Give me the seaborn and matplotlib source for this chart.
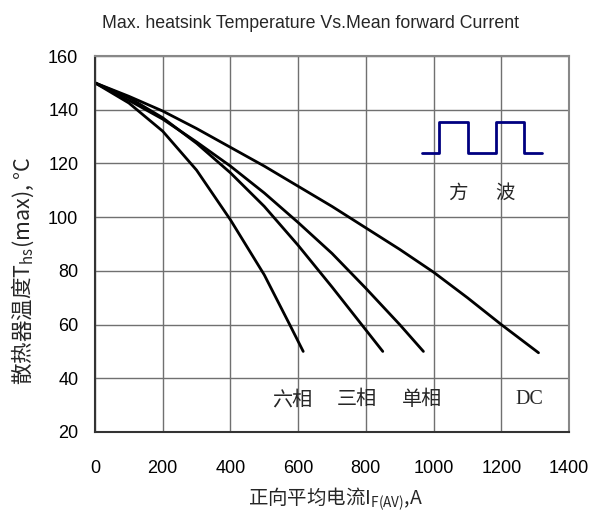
import pandas as pd
import seaborn as sns
import matplotlib.pyplot as plt
from matplotlib import font_manager

# curves (current A, heatsink temp degC)
six_x = [0, 100, 200, 300, 400, 500, 575, 615]
six_y = [150, 142.5, 132, 117.5, 99, 78.5, 60, 50]
three_x = [0, 100, 200, 300, 400, 500, 600, 700, 800, 850]
three_y = [150, 144.5, 137, 127.5, 116.5, 104, 89.5, 74, 58, 50]
single_x = [0, 100, 200, 300, 400, 500, 600, 700, 800, 900, 970]
single_y = [150, 143.5, 136.5, 128, 119, 109, 98, 86.5, 73.5, 60, 50]
dc_x = [0, 100, 200, 300, 400, 500, 600, 700, 800, 900, 1000, 1100, 1200, 1310]
dc_y = [150, 145, 139.5, 133, 126, 119, 111.5, 104, 96, 88, 79.5, 70, 60, 49.5]

# little square wave sketch in the upper right
wave_x = [966, 1017, 1017, 1102, 1102, 1184, 1184, 1267, 1267, 1319]
wave_y = [124, 124, 135.5, 135.5, 124, 124, 135.5, 135.5, 124, 124]

curve_labels = ['六相', '三相', '单相', 'DC']
label_x = [582, 774, 966, 1282]
label_y = 32

wave_text = ['方', '波']
wave_text_x = [1072, 1211]
wave_text_y = 109

xticks = [0, 200, 400, 600, 800, 1000, 1200, 1400]
yticks = [20, 40, 60, 80, 100, 120, 140, 160]

frames = []
for name, xs, ys in [('六相', six_x, six_y), ('三相', three_x, three_y),
                     ('单相', single_x, single_y), ('DC', dc_x, dc_y)]:
    frames.append(pd.DataFrame({'I': xs, 'T': ys, 'curve': name}))
df = pd.concat(frames, ignore_index=True)

sns.set_style('white')
plt.rcParams['font.family'] = ['Liberation Sans', 'Noto Sans CJK SC', 'DejaVu Sans']

fig = plt.figure(figsize=(6.05, 5.18), dpi=100)
ax = fig.add_axes([95 / 605, 1 - 432 / 518, 474 / 605, 376 / 518])

sns.lineplot(data=df, x='I', y='T', units='curve', estimator=None, sort=False,
             color='black', linewidth=2.0, ax=ax, legend=False)
ax.plot(wave_x, wave_y, color='#000080', linewidth=2.0)

ax.set_xlim(0, 1400)
ax.set_ylim(20, 160)
ax.set_xticks(xticks)
ax.set_yticks(yticks)
ax.grid(True, color='#707070', linewidth=1.0)
ax.tick_params(axis='both', length=0, labelsize=13, colors='black')
ax.tick_params(axis='x', pad=20)
ax.tick_params(axis='y', pad=12)
for side in ['top', 'right']:
    ax.spines[side].set_color('#888888')
    ax.spines[side].set_linewidth(1.5)
for side in ['left', 'bottom']:
    ax.spines[side].set_color('#333333')
    ax.spines[side].set_linewidth(1.5)

for txt, lx in zip(curve_labels, label_x):
    ax.text(lx, label_y, txt, ha='center', va='center', fontsize=14.5,
            family=['Noto Sans CJK SC'] if txt != 'DC' else ['Liberation Serif'])
for txt, lx in zip(wave_text, wave_text_x):
    ax.text(lx, wave_text_y, txt, ha='center', va='center', fontsize=14,
            family=['Noto Sans CJK SC'])

# mathtext only uses the first family, so put the CJK font first here
ax.set_xlabel(r'正向平均电流$\mathregular{I_{F(AV)}}$,A', fontsize=14,
              family=['Noto Sans CJK SC'], va='center')
ax.xaxis.set_label_coords(0.508, -0.18)
ax.set_ylabel(r'散热器温度$\mathregular{T_{hs}}$(max), °C', fontsize=15.5,
              family=['Noto Sans CJK SC'], va='center')
ax.yaxis.set_label_coords(-0.152, 0.43)

# title is in a condensed face in the reference
names = {f.name for f in font_manager.fontManager.ttflist}
if 'Liberation Sans Narrow' in names:
    title_font, title_size = 'Liberation Sans Narrow', 15
else:
    title_font, title_size = 'Liberation Sans', 12.8
fig.text(310 / 605, 1 - 24 / 518, 'Max. heatsink Temperature Vs.Mean forward Current',
         ha='center', va='center', fontsize=title_size, family=[title_font])

fig.savefig('out.png', dpi=100)
